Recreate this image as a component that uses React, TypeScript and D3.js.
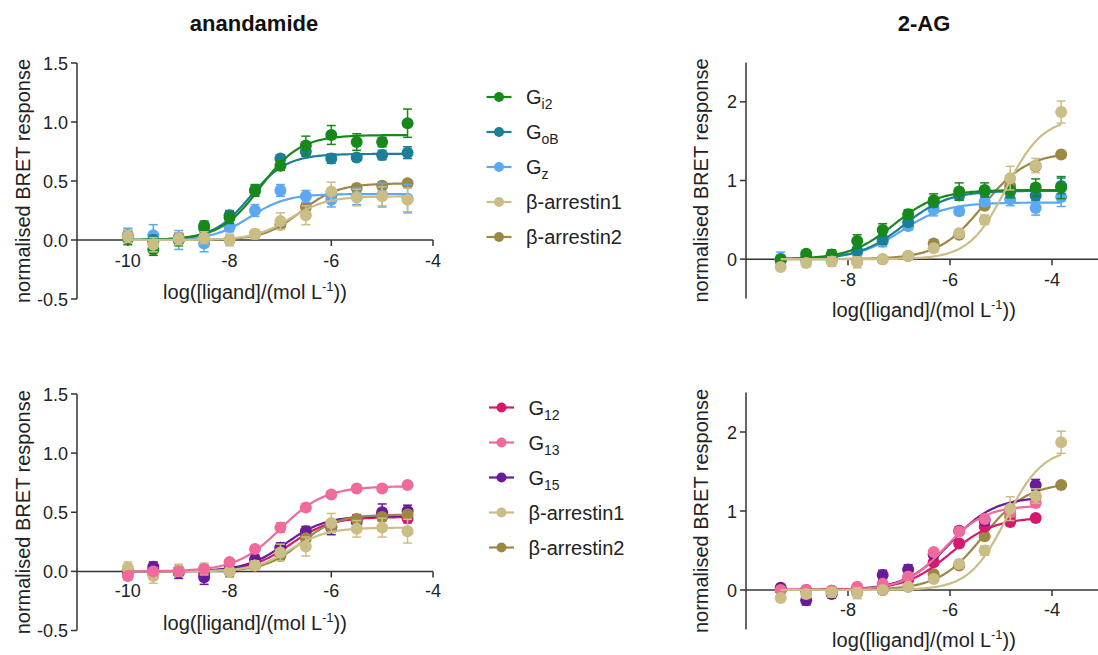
import React from "react";
import * as d3 from "d3";

// log concentrations of the two ligands
const anaLogConc = [-10, -9.5, -9, -8.5, -8, -7.5, -7, -6.5, -6, -5.5, -5, -4.5];
const agLogConc = [-9.32, -8.82, -8.32, -7.82, -7.32, -6.82, -6.32, -5.82, -5.32, -4.82, -4.32, -3.82];
const agLogConcG12 = agLogConc.slice(0, 11);

// anandamide, mean and error
const anaGi2 = [0.02, -0.08, 0.0, 0.12, 0.19, 0.42, 0.63, 0.8, 0.89, 0.83, 0.83, 0.99];
const anaGi2Err = [0.06, 0.05, 0.05, 0.04, 0.05, 0.05, 0.04, 0.08, 0.08, 0.07, 0.04, 0.12];
const anaGoB = [0.03, 0.0, 0.02, 0.1, 0.21, 0.42, 0.69, 0.75, 0.69, 0.7, 0.72, 0.74];
const anaGoBErr = [0.05, 0.04, 0.04, 0.04, 0.04, 0.04, 0.03, 0.04, 0.04, 0.03, 0.04, 0.05];
const anaGz = [0.04, 0.04, 0.0, -0.03, 0.11, 0.25, 0.42, 0.37, 0.34, 0.37, 0.38, 0.35];
const anaGzErr = [0.06, 0.09, 0.08, 0.07, 0.04, 0.05, 0.05, 0.05, 0.06, 0.07, 0.1, 0.12];
const anaArr1 = [0.03, -0.04, 0.01, 0.02, 0.0, 0.05, 0.16, 0.21, 0.41, 0.36, 0.37, 0.34];
const anaArr1Err = [0.05, 0.06, 0.05, 0.05, 0.05, 0.04, 0.07, 0.08, 0.08, 0.07, 0.08, 0.1];
const anaArr2 = [0.01, -0.02, 0.01, 0.02, 0.0, 0.05, 0.13, 0.28, 0.38, 0.44, 0.46, 0.48];
const anaArr2Err = [0.03, 0.03, 0.03, 0.03, 0.03, 0.03, 0.03, 0.03, 0.03, 0.03, 0.03, 0.03];
const anaG12 = [0.0, 0.02, 0.0, -0.02, 0.02, 0.05, 0.2, 0.3, 0.38, 0.44, 0.48, 0.45];
const anaG12Err = [0.04, 0.04, 0.04, 0.05, 0.04, 0.03, 0.04, 0.04, 0.05, 0.04, 0.05, 0.04];
const anaG13 = [-0.04, 0.0, 0.0, 0.02, 0.08, 0.19, 0.37, 0.54, 0.65, 0.7, 0.7, 0.73];
const anaG13Err = [0.03, 0.03, 0.03, 0.03, 0.02, 0.02, 0.04, 0.03, 0.02, 0.02, 0.02, 0.02];
const anaG15 = [0.0, 0.04, -0.01, -0.05, 0.0, 0.1, 0.2, 0.34, 0.37, 0.42, 0.5, 0.51];
const anaG15Err = [0.04, 0.04, 0.05, 0.06, 0.04, 0.04, 0.04, 0.04, 0.06, 0.05, 0.07, 0.05];

// 2-AG, mean and error
const agGi2 = [0.0, 0.07, 0.06, 0.23, 0.37, 0.57, 0.75, 0.86, 0.88, 0.88, 0.91, 0.91];
const agGi2Err = [0.03, 0.03, 0.06, 0.08, 0.08, 0.06, 0.08, 0.11, 0.09, 0.1, 0.11, 0.14];
const agGoB = [-0.02, 0.02, 0.02, 0.11, 0.25, 0.47, 0.72, 0.81, 0.86, 0.86, 0.81, 0.93];
const agGoBErr = [0.04, 0.04, 0.04, 0.05, 0.06, 0.05, 0.06, 0.06, 0.06, 0.06, 0.06, 0.1];
const agGz = [0.01, 0.0, 0.03, 0.09, 0.22, 0.42, 0.63, 0.61, 0.73, 0.76, 0.65, 0.79];
const agGzErr = [0.08, 0.05, 0.05, 0.05, 0.06, 0.05, 0.08, 0.05, 0.05, 0.08, 0.09, 0.12];
const agArr1 = [-0.1, -0.05, -0.03, -0.04, 0.0, 0.04, 0.14, 0.33, 0.5, 1.03, 1.19, 1.87];
const agArr1Err = [0.03, 0.05, 0.06, 0.07, 0.02, 0.03, 0.04, 0.05, 0.06, 0.15, 0.09, 0.14];
const agArr2 = [0.0, -0.01, -0.02, -0.03, 0.0, 0.04, 0.2, 0.31, 0.68, 0.93, 1.18, 1.33];
const agArr2Err = [0.03, 0.03, 0.03, 0.03, 0.03, 0.03, 0.03, 0.03, 0.03, 0.03, 0.03, 0.03];
const agG12 = [0.0, 0.0, -0.01, 0.02, 0.0, 0.13, 0.35, 0.59, 0.8, 0.86, 0.91];
const agG12Err = [0.03, 0.03, 0.03, 0.03, 0.03, 0.03, 0.03, 0.03, 0.03, 0.04, 0.03];
const agG13 = [0.0, 0.0, -0.01, 0.04, 0.08, 0.17, 0.48, 0.74, 0.9, 0.98, 1.1];
const agG13Err = [0.03, 0.03, 0.03, 0.03, 0.03, 0.03, 0.03, 0.03, 0.03, 0.04, 0.05];
const agG15 = [0.03, -0.13, -0.05, 0.0, 0.19, 0.26, 0.45, 0.75, 0.88, 1.02, 1.33];
const agG15Err = [0.03, 0.06, 0.05, 0.03, 0.06, 0.06, 0.04, 0.04, 0.05, 0.07, 0.07];

// fitted curves: [bottom, top, logEC50, hill slope]
const anaGi2Fit = [0, 0.89, -7.4, 1.1];
const anaGoBFit = [0, 0.73, -7.6, 1.2];
const anaGzFit = [0, 0.39, -7.6, 1.2];
const anaArr1Fit = [0, 0.37, -6.8, 1.2];
const anaArr2Fit = [0, 0.48, -6.6, 1.2];
const anaG12Fit = [0, 0.46, -6.8, 1.1];
const anaG13Fit = [0, 0.72, -7.0, 1.0];
const anaG15Fit = [0, 0.47, -6.9, 1.1];
const agGi2Fit = [0, 0.88, -7.1, 1.0];
const agGoBFit = [0, 0.87, -6.9, 1.0];
const agGzFit = [0, 0.72, -6.95, 1.0];
const agArr1Fit = [0, 1.8, -4.9, 1.2];
const agArr2Fit = [0, 1.36, -5.35, 1.0];
const agG12Fit = [0, 0.92, -6.0, 1.0];
const agG13Fit = [0, 1.07, -6.1, 1.1];
const agG15Fit = [0, 1.18, -6.0, 1.0];

const anaYTicks = [-0.5, 0, 0.5, 1.0, 1.5];
const agYTicks = [0, 1, 2];
const anaXTicks = [-10, -8, -6, -4];
const agXTicks = [-8, -6, -4];

const C = {
  gi2: "#17891b",
  gob: "#1b7f98",
  gz: "#5ba8f3",
  arr1: "#cbbd86",
  arr2: "#9b8845",
  g12: "#d6196b",
  g13: "#f06a9b",
  g15: "#6a1b9a",
};

type Series = { g: string; sub?: string; color: string; x: number[]; y: number[]; err: number[]; fit: number[] };

const arr1Name = "\u03b2-arrestin1";
const arr2Name = "\u03b2-arrestin2";

const topLegend: Series[] = [
  { g: "G", sub: "i2", color: C.gi2, x: anaLogConc, y: anaGi2, err: anaGi2Err, fit: anaGi2Fit },
  { g: "G", sub: "oB", color: C.gob, x: anaLogConc, y: anaGoB, err: anaGoBErr, fit: anaGoBFit },
  { g: "G", sub: "z", color: C.gz, x: anaLogConc, y: anaGz, err: anaGzErr, fit: anaGzFit },
  { g: arr1Name, color: C.arr1, x: anaLogConc, y: anaArr1, err: anaArr1Err, fit: anaArr1Fit },
  { g: arr2Name, color: C.arr2, x: anaLogConc, y: anaArr2, err: anaArr2Err, fit: anaArr2Fit },
];
const botLegend: Series[] = [
  { g: "G", sub: "12", color: C.g12, x: anaLogConc, y: anaG12, err: anaG12Err, fit: anaG12Fit },
  { g: "G", sub: "13", color: C.g13, x: anaLogConc, y: anaG13, err: anaG13Err, fit: anaG13Fit },
  { g: "G", sub: "15", color: C.g15, x: anaLogConc, y: anaG15, err: anaG15Err, fit: anaG15Fit },
  { g: arr1Name, color: C.arr1, x: anaLogConc, y: anaArr1, err: anaArr1Err, fit: anaArr1Fit },
  { g: arr2Name, color: C.arr2, x: anaLogConc, y: anaArr2, err: anaArr2Err, fit: anaArr2Fit },
];

// draw order (last on top)
const panelTL: Series[] = [topLegend[4], topLegend[2], topLegend[1], topLegend[0], topLegend[3]];
const panelBL: Series[] = [botLegend[0], botLegend[2], botLegend[4], botLegend[3], botLegend[1]];
const panelTR: Series[] = [
  { g: "", color: C.arr2, x: agLogConc, y: agArr2, err: agArr2Err, fit: agArr2Fit },
  { g: "", color: C.gz, x: agLogConc, y: agGz, err: agGzErr, fit: agGzFit },
  { g: "", color: C.gob, x: agLogConc, y: agGoB, err: agGoBErr, fit: agGoBFit },
  { g: "", color: C.gi2, x: agLogConc, y: agGi2, err: agGi2Err, fit: agGi2Fit },
  { g: "", color: C.arr1, x: agLogConc, y: agArr1, err: agArr1Err, fit: agArr1Fit },
];
const panelBR: Series[] = [
  { g: "", color: C.arr2, x: agLogConc, y: agArr2, err: agArr2Err, fit: agArr2Fit },
  { g: "", color: C.g12, x: agLogConcG12, y: agG12, err: agG12Err, fit: agG12Fit },
  { g: "", color: C.g15, x: agLogConcG12, y: agG15, err: agG15Err, fit: agG15Fit },
  { g: "", color: C.g13, x: agLogConcG12, y: agG13, err: agG13Err, fit: agG13Fit },
  { g: "", color: C.arr1, x: agLogConc, y: agArr1, err: agArr1Err, fit: agArr1Fit },
];

const FONT = "'Liberation Sans', Arial, Helvetica, sans-serif";
const INK = "#222";
const AXIS = "#333";

const hill = (f: number[], x: number) => f[0] + (f[1] - f[0]) / (1 + Math.pow(10, (f[2] - x) * f[3]));

type PanelProps = {
  series: Series[];
  xDomain: [number, number];
  xRange: [number, number];
  yDomain: [number, number];
  yRange: [number, number];
  xTicks: number[];
  yTicks: number[];
  yFmt: (v: number) => string;
  xTickBase: number;
  xLabelBase: number;
  xLabelX: number;
  yLabelX: number;
};

const fmtMinus = (s: string) => s.replace("\u2212", "-");

function Panel(p: PanelProps) {
  const x = d3.scaleLinear().domain(p.xDomain).range(p.xRange);
  const y = d3.scaleLinear().domain(p.yDomain).range(p.yRange);
  const y0 = y(0);
  const line = d3
    .line<[number, number]>()
    .x((d) => x(d[0]))
    .y((d) => y(d[1]));
  return (
    <g fontFamily={FONT}>
      {/* axes */}
      <line x1={p.xRange[0]} x2={p.xRange[0]} y1={p.yRange[0]} y2={p.yRange[1]} stroke={AXIS} strokeWidth={1.5} />
      <line x1={p.xRange[0]} x2={p.xRange[1]} y1={y0} y2={y0} stroke={AXIS} strokeWidth={1.5} />
      {p.yTicks.map((t) => (
        <g key={"y" + t}>
          <line x1={p.xRange[0] - 6} x2={p.xRange[0]} y1={y(t)} y2={y(t)} stroke={AXIS} strokeWidth={1.5} />
          <text x={p.xRange[0] - 9} y={y(t) + 6.5} fontSize={18} textAnchor="end" fill={INK}>
            {fmtMinus(p.yFmt(t))}
          </text>
        </g>
      ))}
      {p.xTicks.map((t) => (
        <g key={"x" + t}>
          <line x1={x(t)} x2={x(t)} y1={y0} y2={y0 + 6} stroke={AXIS} strokeWidth={1.5} />
          <text x={x(t)} y={p.xTickBase} fontSize={18} textAnchor="middle" fill={INK}>
            {fmtMinus(d3.format("d")(t))}
          </text>
        </g>
      ))}
      <text x={p.xLabelX} y={p.xLabelBase} fontSize={20} textAnchor="middle" fill={INK}>
        log([ligand]/(mol L
        <tspan fontSize={13} dy={-8}>-1</tspan>
        <tspan dy={8}>))</tspan>
      </text>
      <text
        transform={`translate(${p.yLabelX},${(p.yRange[0] + p.yRange[1]) / 2}) rotate(-90)`}
        fontSize={20}
        textAnchor="middle"
        fill={INK}
      >
        normalised BRET response
      </text>
      {/* data */}
      {p.series.map((s, i) => {
        const lo = d3.min(s.x) as number;
        const hi = d3.max(s.x) as number;
        const pts: [number, number][] = d3.range(0, 201).map((k) => {
          const xv = lo + ((hi - lo) * k) / 200;
          return [xv, hill(s.fit, xv)];
        });
        return (
          <g key={i}>
            <path d={line(pts) || ""} fill="none" stroke={s.color} strokeWidth={2.2} />
            {s.x.map((xv, j) => {
              const yv = s.y[j];
              const e = s.err[j];
              const cx = x(xv);
              return (
                <g key={j} stroke={s.color} strokeWidth={1.5}>
                  <line x1={cx} x2={cx} y1={y(yv - e)} y2={y(yv + e)} />
                  <line x1={cx - 4.5} x2={cx + 4.5} y1={y(yv + e)} y2={y(yv + e)} />
                  <line x1={cx - 4.5} x2={cx + 4.5} y1={y(yv - e)} y2={y(yv - e)} />
                </g>
              );
            })}
            {s.x.map((xv, j) => (
              <circle key={"c" + j} cx={x(xv)} cy={y(s.y[j])} r={6} fill={s.color} />
            ))}
          </g>
        );
      })}
    </g>
  );
}

function Legend({ items, x0, y0, step }: { items: Series[]; x0: number; y0: number; step: number }) {
  return (
    <g fontFamily={FONT}>
      {items.map((s, i) => {
        const cy = y0 + i * step;
        return (
          <g key={i}>
            <line x1={x0 - 12.5} x2={x0 + 12.5} y1={cy} y2={cy} stroke={s.color} strokeWidth={2.2} />
            <circle cx={x0} cy={cy} r={5} fill={s.color} />
            <text x={x0 + 27} y={cy + 7} fontSize={20} fill={INK}>
              {s.g}
              {s.sub && (
                <tspan fontSize={14} dy={5}>
                  {s.sub}
                </tspan>
              )}
            </text>
          </g>
        );
      })}
    </g>
  );
}

const f1 = (v: number) => d3.format(".1f")(v);
const f0 = (v: number) => d3.format("d")(v);

export default function App() {
  return (
    <div style={{ position: "absolute", left: 0, top: 0 }}>
      <svg width={1098} height={655} style={{ display: "block", background: "#fff" }}>
        <text x={254} y={31} fontFamily={FONT} fontWeight="bold" fontSize={22} textAnchor="middle" fill="#111">
          anandamide
        </text>
        <text x={924} y={31} fontFamily={FONT} fontWeight="bold" fontSize={22} textAnchor="middle" fill="#111">
          2-AG
        </text>
        <Panel
          series={panelTL}
          xDomain={[-11, -4]}
          xRange={[77, 433]}
          yDomain={[-0.5, 1.5]}
          yRange={[299, 63]}
          xTicks={anaXTicks}
          yTicks={anaYTicks}
          yFmt={f1}
          xTickBase={266.5}
          xLabelBase={299}
          xLabelX={255}
          yLabelX={30}
        />
        <Panel
          series={panelTR}
          xDomain={[-10, -3]}
          xRange={[746, 1103]}
          yDomain={[-0.5, 2.5]}
          yRange={[298.5, 62.5]}
          xTicks={agXTicks}
          yTicks={agYTicks}
          yFmt={f0}
          xTickBase={285.5}
          xLabelBase={316.5}
          xLabelX={924}
          yLabelX={707.5}
        />
        <Panel
          series={panelBL}
          xDomain={[-11, -4]}
          xRange={[77, 433]}
          yDomain={[-0.5, 1.5]}
          yRange={[630.5, 394]}
          xTicks={anaXTicks}
          yTicks={anaYTicks}
          yFmt={f1}
          xTickBase={597}
          xLabelBase={630}
          xLabelX={255}
          yLabelX={30}
        />
        <Panel
          series={panelBR}
          xDomain={[-10, -3]}
          xRange={[746, 1103]}
          yDomain={[-0.5, 2.5]}
          yRange={[629.5, 392.5]}
          xTicks={agXTicks}
          yTicks={agYTicks}
          yFmt={f0}
          xTickBase={616}
          xLabelBase={647}
          xLabelX={924}
          yLabelX={707.5}
        />
        <Legend items={topLegend} x0={499} y0={97} step={35} />
        <Legend items={botLegend} x0={501.5} y0={407.5} step={35} />
      </svg>
    </div>
  );
}
